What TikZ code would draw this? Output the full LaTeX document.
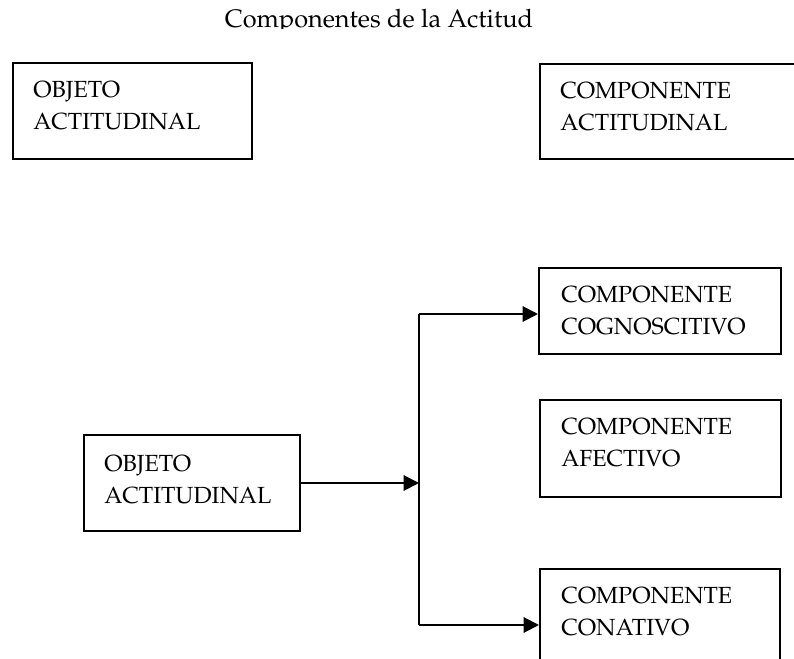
\documentclass[tikz,border=0pt]{standalone}
\usepackage[T1]{fontenc}
\usepackage{mathpazo}
\usetikzlibrary{arrows.meta,calc}
\newcommand\twoln[2]{\begin{tabular}[t]{@{}l@{}}#1\\#2\end{tabular}}
\begin{document}
\begin{tikzpicture}[x=0.75pt,y=-0.75pt,
  box/.style={draw, line width=1.5pt, rectangle, inner sep=0pt, anchor=north west},
  lbl/.style={anchor=base west, inner sep=0pt, font=\fontsize{17.5}{24}\selectfont},
  ttl/.style={anchor=base, inner sep=0pt, font=\fontsize{19}{24}\selectfont},
  ln/.style={line width=1.5pt},
  arr/.style={line width=1.5pt, -{Triangle[length=11.5pt,width=11.5pt]}}]
\useasboundingbox (0,0) rectangle (794,659);
\clip (0,0) rectangle (794,659);
\begin{scope}
  \clip (0,0) rectangle (794,28.5);
  \node[ttl] (title) at (379,28) {Componentes de la Actitud};
\end{scope}
% top row
\node[box, minimum width=179.25pt, minimum height=72pt] (b1) at (12,62) {};
\node[box, minimum width=260pt, minimum height=71.25pt] (b2) at (539,63) {};
\node[lbl] (b1t) at ($(b1.north west)+(21,36)$) {\twoln{OBJETO}{ACTITUDINAL}};
\node[lbl] (b2t) at ($(b2.north west)+(21,36)$) {\twoln{COMPONENTE}{ACTITUDINAL}};
% lower diagram
\node[box, minimum width=162pt, minimum height=72pt] (o2) at (83,434) {};
\node[box, minimum width=181.5pt, minimum height=64.5pt] (cog) at (538,267) {};
\node[box, minimum width=180.75pt, minimum height=72.75pt] (afe) at (539,399) {};
\node[box, minimum width=180pt, minimum height=112.5pt] (con) at (539,568) {};
\node[lbl] (o2t) at ($(o2.north west)+(21,38)$) {\twoln{OBJETO}{ACTITUDINAL}};
\node[lbl] (cogt) at ($(cog.north west)+(23,36)$) {\twoln{COMPONENTE}{COGNOSCITIVO}};
\node[lbl] (afet) at ($(afe.north west)+(22,36)$) {\twoln{COMPONENTE}{AFECTIVO}};
\node[lbl] (cont) at ($(con.north west)+(22,36)$) {\twoln{COMPONENTE}{CONATIVO}};
% connectors
\coordinate (jm) at (419,481);
\coordinate (jt) at (419,314);
\coordinate (jb) at (419,625);
\draw[arr] (o2.east) -- (o2.east -| jm);
\draw[ln] (jt) -- (jb);
\draw[arr] (jt) -- (jt -| cog.west);
\draw[arr] (jb) -- (jb -| con.west);
\end{tikzpicture}
\end{document}
